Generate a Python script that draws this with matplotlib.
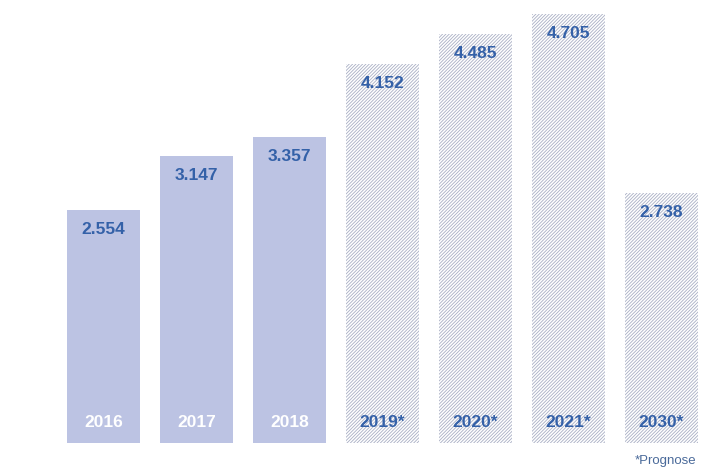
import matplotlib.pyplot as plt

plt.rcParams['font.family'] = ['Liberation Sans', 'DejaVu Sans']
plt.rcParams['hatch.linewidth'] = 0.6

years = ['2016', '2017', '2018', '2019*', '2020*', '2021*', '2030*']
values = [2554, 3147, 3357, 4152, 4485, 4705, 2738]
forecast = [False, False, False, True, True, True, True]

fill_col = '#bcc3e3'
hatch_col = '#a9aec4'
text_col = '#3461a8'

fig = plt.figure(figsize=(7.2, 4.69), dpi=100)
ax = fig.add_axes([0, 0, 1, 1])

xs = list(range(len(years)))
for x, v, f, y in zip(xs, values, forecast, years):
    if f:
        ax.bar(x, v, width=0.795, color='white', edgecolor=hatch_col,
               hatch='//////////', linewidth=0)
        ycol = text_col
    else:
        ax.bar(x, v, width=0.795, color=fill_col, linewidth=0)
        ycol = 'white'
    label = f'{v:,}'.replace(',', '.')
    ax.text(x, v - 215, label, ha='center', va='center', fontsize=12.5,
            fontweight='bold', color=text_col)
    ax.text(x, 230, y, ha='center', va='center', fontsize=12.5,
            fontweight='bold', color=ycol)

ax.text(6.04, -195, '*Prognose', ha='center', va='center', fontsize=9.5,
        color='#4a6a9a')

ax.set_xlim(-103.5 / 93, (720 - 103.5) / 93)
ax.set_ylim(-26 / 0.0912, 443 / 0.0912)
ax.axis('off')

fig.savefig('out.png', dpi=100)
